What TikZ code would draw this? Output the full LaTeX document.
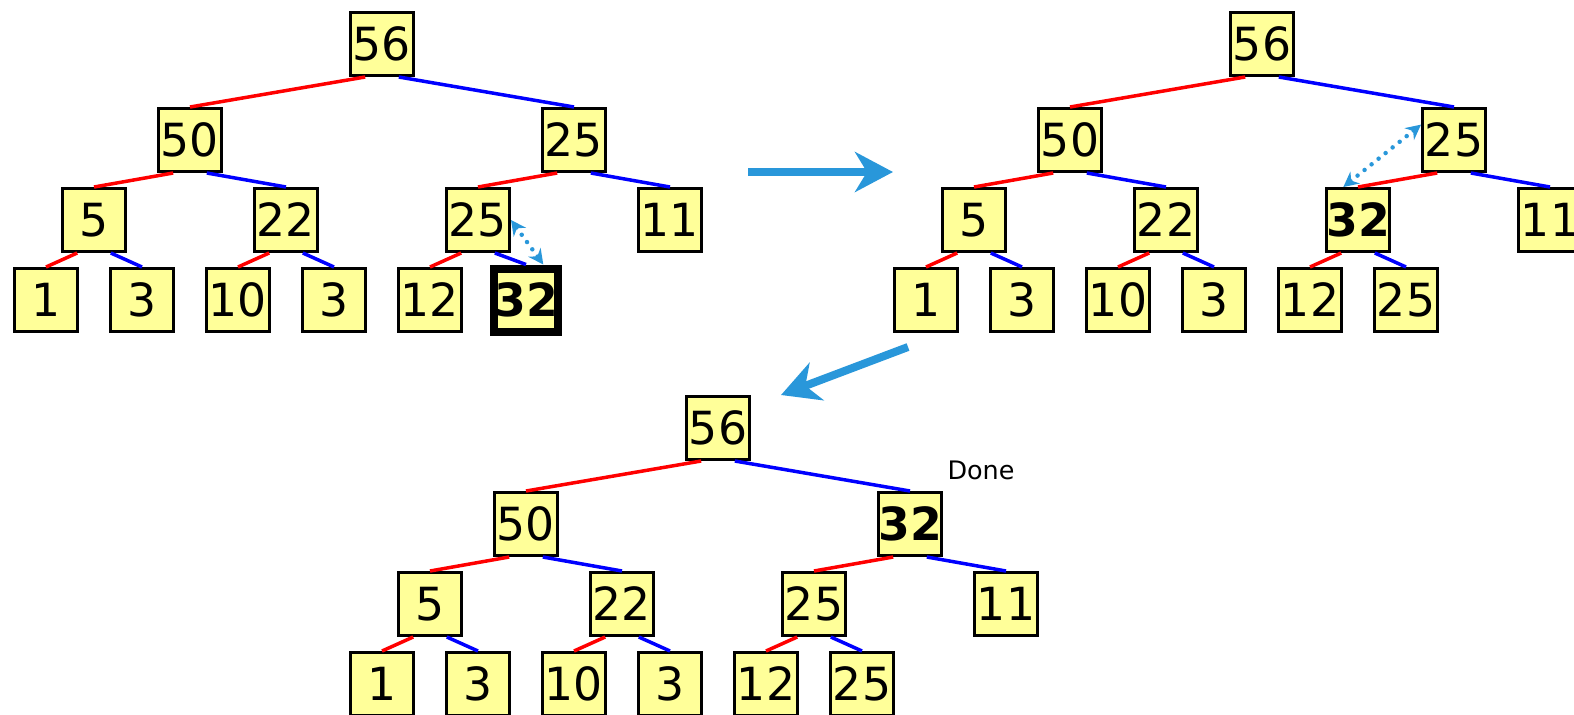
\documentclass[tikz,border=0pt]{standalone}
\usepackage{fontspec}
\setmainfont{DejaVu Sans}
\usetikzlibrary{arrows.meta}

\definecolor{boxfill}{RGB}{255,255,153}
\definecolor{stepblue}{RGB}{41,151,218}

\tikzset{
  heapbox/.style={draw=black, fill=boxfill, line width=0.06cm, minimum size=1.26cm,
    inner sep=0pt, font=\fontsize{26}{30}\selectfont},
  movedbox/.style={heapbox, font=\fontsize{26}{30}\selectfont\bfseries},
  lchild/.style={red, line width=0.07cm},
  rchild/.style={blue, line width=0.07cm},
  exch/.style={stepblue, line width=0.09cm, line cap=round, dash pattern=on 0pt off 0.18cm,
    {Stealth[length=0.3cm,width=0.3cm]}-{Stealth[length=0.3cm,width=0.3cm]}},
  stage/.style={stepblue, line width=0.16cm,
    -{Stealth[length=0.76cm,width=0.8cm,inset=0.24cm]}},
}

\begin{document}
\begin{tikzpicture}[x=0.02cm, y=-0.02cm]
\useasboundingbox (0,0) rectangle (1574,714);

% step 1: 32 added as last leaf
\node[heapbox] (a1) at (382,44) {56};
\node[heapbox] (a2) at (190,140) {50};
\node[heapbox] (a3) at (574,140) {25};
\node[heapbox] (a4) at (94,220) {5};
\node[heapbox] (a5) at (286,220) {22};
\node[heapbox] (a6) at (478,220) {25};
\node[heapbox] (a7) at (670,220) {11};
\node[heapbox] (a8) at (46,300) {1};
\node[heapbox] (a9) at (142,300) {3};
\node[heapbox] (a10) at (238,300) {10};
\node[heapbox] (a11) at (334,300) {3};
\node[heapbox] (a12) at (430,300) {12};
\node[movedbox, line width=0.16cm] (a13) at (526,300) {32};

% step 2: swapped with 25
\begin{scope}[shift={(880,0)}]
\node[heapbox] (b1) at (382,44) {56};
\node[heapbox] (b2) at (190,140) {50};
\node[heapbox] (b3) at (574,140) {25};
\node[heapbox] (b4) at (94,220) {5};
\node[heapbox] (b5) at (286,220) {22};
\node[movedbox] (b6) at (478,220) {32};
\node[heapbox] (b7) at (670,220) {11};
\node[heapbox] (b8) at (46,300) {1};
\node[heapbox] (b9) at (142,300) {3};
\node[heapbox] (b10) at (238,300) {10};
\node[heapbox] (b11) at (334,300) {3};
\node[heapbox] (b12) at (430,300) {12};
\node[heapbox] (b13) at (526,300) {25};
\end{scope}

% step 3
\begin{scope}[shift={(336,384)}]
\node[heapbox] (c1) at (382,44) {56};
\node[heapbox] (c2) at (190,140) {50};
\node[movedbox] (c3) at (574,140) {32};
\node[heapbox] (c4) at (94,220) {5};
\node[heapbox] (c5) at (286,220) {22};
\node[heapbox] (c6) at (478,220) {25};
\node[heapbox] (c7) at (670,220) {11};
\node[heapbox] (c8) at (46,300) {1};
\node[heapbox] (c9) at (142,300) {3};
\node[heapbox] (c10) at (238,300) {10};
\node[heapbox] (c11) at (334,300) {3};
\node[heapbox] (c12) at (430,300) {12};
\node[heapbox] (c13) at (526,300) {25};
\end{scope}

\foreach \t in {a,b,c}
  \foreach \p/\l/\r in {1/2/3,2/4/5,3/6/7,4/8/9,5/10/11,6/12/13} {
    \draw[lchild] (\t\p.243) -- (\t\l.north);
    \draw[rchild] (\t\p.297) -- (\t\r.north);
  }

\draw[exch] (a6.east) -- (a13.64);
\draw[exch] (b6.114) -- (b3.155);

\coordinate (go1) at (748,172);
\coordinate (to1) at (893,172);
\coordinate (go2) at (908,347);
\coordinate (to2) at (781,395);
\draw[stage] (go1) -- (to1);
\draw[stage] (go2) -- (to2);

\node[font=\fontsize{14.5}{17}\selectfont] (done) at (981,470) {Done};
\end{tikzpicture}
\end{document}
